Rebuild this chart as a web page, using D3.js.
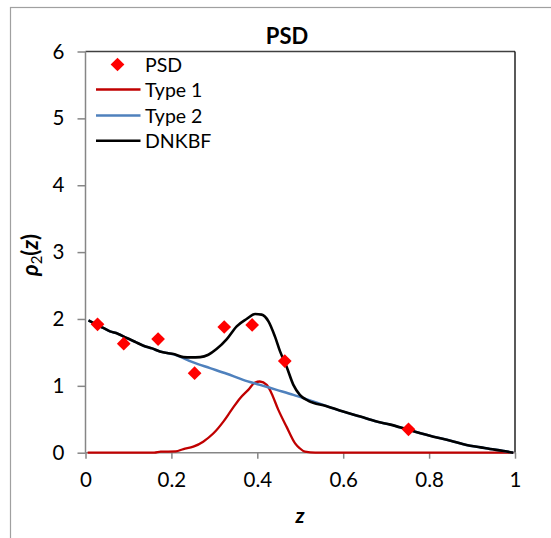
<!DOCTYPE html>
<html><head><meta charset="utf-8">
<script src="https://cdn.jsdelivr.net/npm/d3@7"></script>
<style>body{margin:0;background:#fff}svg{display:block}text{font-family:Lato,"Open Sans",sans-serif}</style>
</head><body>
<script>
// ---- data ----
const psdZ = [0.028, 0.089, 0.169, 0.254, 0.323, 0.388, 0.464, 0.752];
const psdV = [1.92, 1.63, 1.70, 1.19, 1.88, 1.91, 1.37, 0.35];

const type1Z = [0.005, 0.16, 0.175, 0.21, 0.228, 0.251, 0.274, 0.298, 0.321, 0.34, 0.36, 0.379, 0.395, 0.406, 0.422, 0.433, 0.449, 0.468, 0.488, 0.499, 0.511, 0.535, 0.996];
const type1V = [0, 0, 0.015, 0.02, 0.055, 0.09, 0.165, 0.29, 0.465, 0.64, 0.815, 0.94, 1.05, 1.065, 1.015, 0.89, 0.64, 0.39, 0.14, 0.065, 0.015, 0, 0];

const type2Z = [0.007, 0.026, 0.04, 0.057, 0.075, 0.096, 0.115, 0.135, 0.155, 0.173, 0.19, 0.205, 0.251, 0.29, 0.329, 0.367, 0.406, 0.445, 0.484, 0.519, 0.56, 0.6, 0.64, 0.678, 0.71, 0.748, 0.78, 0.81, 0.85, 0.887, 0.92, 0.942, 0.97, 0.996];
const type2V = [1.98, 1.915, 1.87, 1.815, 1.78, 1.715, 1.66, 1.6, 1.56, 1.515, 1.49, 1.47, 1.35, 1.265, 1.18, 1.09, 1.015, 0.94, 0.865, 0.79, 0.7, 0.615, 0.54, 0.465, 0.42, 0.35, 0.29, 0.24, 0.18, 0.115, 0.08, 0.055, 0.03, 0.0];

const dnkbfZ = [0.007, 0.026, 0.04, 0.057, 0.075, 0.096, 0.115, 0.135, 0.155, 0.173, 0.19, 0.205, 0.228, 0.245, 0.267, 0.286, 0.305, 0.329, 0.352, 0.375, 0.395, 0.41, 0.426, 0.441, 0.453, 0.468, 0.484, 0.499, 0.519, 0.56, 0.6, 0.64, 0.678, 0.71, 0.748, 0.78, 0.81, 0.85, 0.887, 0.92, 0.942, 0.97, 0.996];
const dnkbfV = [1.98, 1.915, 1.87, 1.815, 1.78, 1.715, 1.66, 1.6, 1.56, 1.515, 1.49, 1.475, 1.43, 1.425, 1.43, 1.465, 1.55, 1.7, 1.89, 2.0, 2.075, 2.065, 1.965, 1.74, 1.515, 1.29, 1.015, 0.865, 0.775, 0.7, 0.615, 0.54, 0.465, 0.42, 0.35, 0.29, 0.24, 0.18, 0.115, 0.08, 0.055, 0.03, 0.0];

const xTicks = [0, 0.2, 0.4, 0.6, 0.8, 1];
const xTickLabels = ["0", "0.2", "0.4", "0.6", "0.8", "1"];
const yTicks = [0, 1, 2, 3, 4, 5, 6];
const legendNames = ["PSD", "Type 1", "Type 2", "DNKBF"];
const seriesColors = {psd: "#FF0000", type1: "#C00000", type2: "#4F81BD", dnkbf: "#000000"};

// ---- layout ----
const W = 551, H = 538;
const L = 85.5, R = 515, T = 51.5, B = 452.7;
const svg = d3.select("body").append("svg").attr("width", W).attr("height", H);

svg.append("rect").attr("x", 10.5).attr("y", 7.5).attr("width", 700).attr("height", 700)
  .attr("fill", "#fff").attr("stroke", "#a0a0a0").attr("stroke-width", 1.2);

const x = d3.scaleLinear().domain([0, 1]).range([L, R]);
const y = d3.scaleLinear().domain([0, 6]).range([B, T]);

// plot area border (top + right)
svg.append("line").attr("x1", L).attr("x2", R).attr("y1", T).attr("y2", T).attr("stroke", "#404040").attr("stroke-width", 1.3);
svg.append("line").attr("x1", R).attr("x2", R).attr("y1", T).attr("y2", B).attr("stroke", "#000").attr("stroke-width", 1.3);

// axes
const yAxis = d3.axisLeft(y).tickValues(yTicks).tickSize(8).tickPadding(13).tickFormat(d3.format("d"));
const gy = svg.append("g").attr("transform", `translate(${L},0)`).call(yAxis);
const xAxis = d3.axisBottom(x).tickValues(xTicks).tickSize(6).tickPadding(14).tickFormat((d, i) => xTickLabels[i]);
const gx = svg.append("g").attr("transform", `translate(0,${B})`).call(xAxis);
[gx, gy].forEach(g => {
  g.select(".domain").attr("stroke", "#868686").attr("stroke-width", 1.5);
  g.selectAll(".tick line").attr("stroke", "#868686").attr("stroke-width", 1.5);
  g.selectAll(".tick text").attr("fill", "#000").style("font-size", "20.5px").style("font-family", "Lato, sans-serif");
});
gx.select(".domain").attr("d", `M${L},0H${R}`);
gy.select(".domain").attr("d", `M0,${B}V${T}`);

// lines
const lineGen = d3.line().x(d => x(d[0])).y(d => y(d[1])).curve(d3.curveMonotoneX);
const zip = (a, b) => a.map((v, i) => [v, b[i]]);
svg.append("path").datum(zip(type1Z, type1V)).attr("d", lineGen).attr("fill", "none").attr("stroke", seriesColors.type1).attr("stroke-width", 2.3);
svg.append("path").datum(zip(type2Z, type2V)).attr("d", lineGen).attr("fill", "none").attr("stroke", seriesColors.type2).attr("stroke-width", 2.5);
svg.append("path").datum(zip(dnkbfZ, dnkbfV)).attr("d", lineGen).attr("fill", "none").attr("stroke", seriesColors.dnkbf).attr("stroke-width", 2.6);

// markers
const diamond = d3.symbol().type(d3.symbolDiamond2).size(120);
svg.append("g").selectAll("path").data(zip(psdZ, psdV)).join("path")
  .attr("d", diamond).attr("transform", d => `translate(${x(d[0])},${y(d[1])})`)
  .attr("fill", seriesColors.psd);

// title
svg.append("text").attr("x", 287).attr("y", 43.5).attr("text-anchor", "middle")
  .style("font-size", "22px").style("font-weight", "bold").text("PSD");

// axis titles
svg.append("text").attr("x", 300).attr("y", 523).attr("text-anchor", "middle")
  .style("font-size", "21px").style("font-weight", "bold").style("font-style", "italic").text("z");
const yl = svg.append("text").attr("transform", "translate(38,255) rotate(-90)").attr("text-anchor", "middle")
  .style("font-size", "22px").style("font-weight", "bold");
yl.append("tspan").style("font-style", "italic").text("ρ");
yl.append("tspan").attr("dy", 4).style("font-size", "15px").style("font-weight", "normal").text("2");
yl.append("tspan").attr("dy", -4).text("(");
yl.append("tspan").style("font-style", "italic").text("z");
yl.append("tspan").text(")");

// legend
const rowsY = [64.5, 89.5, 115.5, 140.7];
const lg = svg.append("g");
lg.append("path").attr("d", diamond).attr("transform", `translate(117.5,${rowsY[0]})`).attr("fill", seriesColors.psd);
[["type1", 1], ["type2", 2], ["dnkbf", 3]].forEach(([k, i]) => {
  lg.append("line").attr("x1", 96).attr("x2", 140.5).attr("y1", rowsY[i]).attr("y2", rowsY[i])
    .attr("stroke", seriesColors[k]).attr("stroke-width", 2.4);
});
legendNames.forEach((n, i) => {
  lg.append("text").attr("x", 145).attr("y", rowsY[i] + 7).style("font-size", "19.5px").text(n);
});
</script>
</body></html>
